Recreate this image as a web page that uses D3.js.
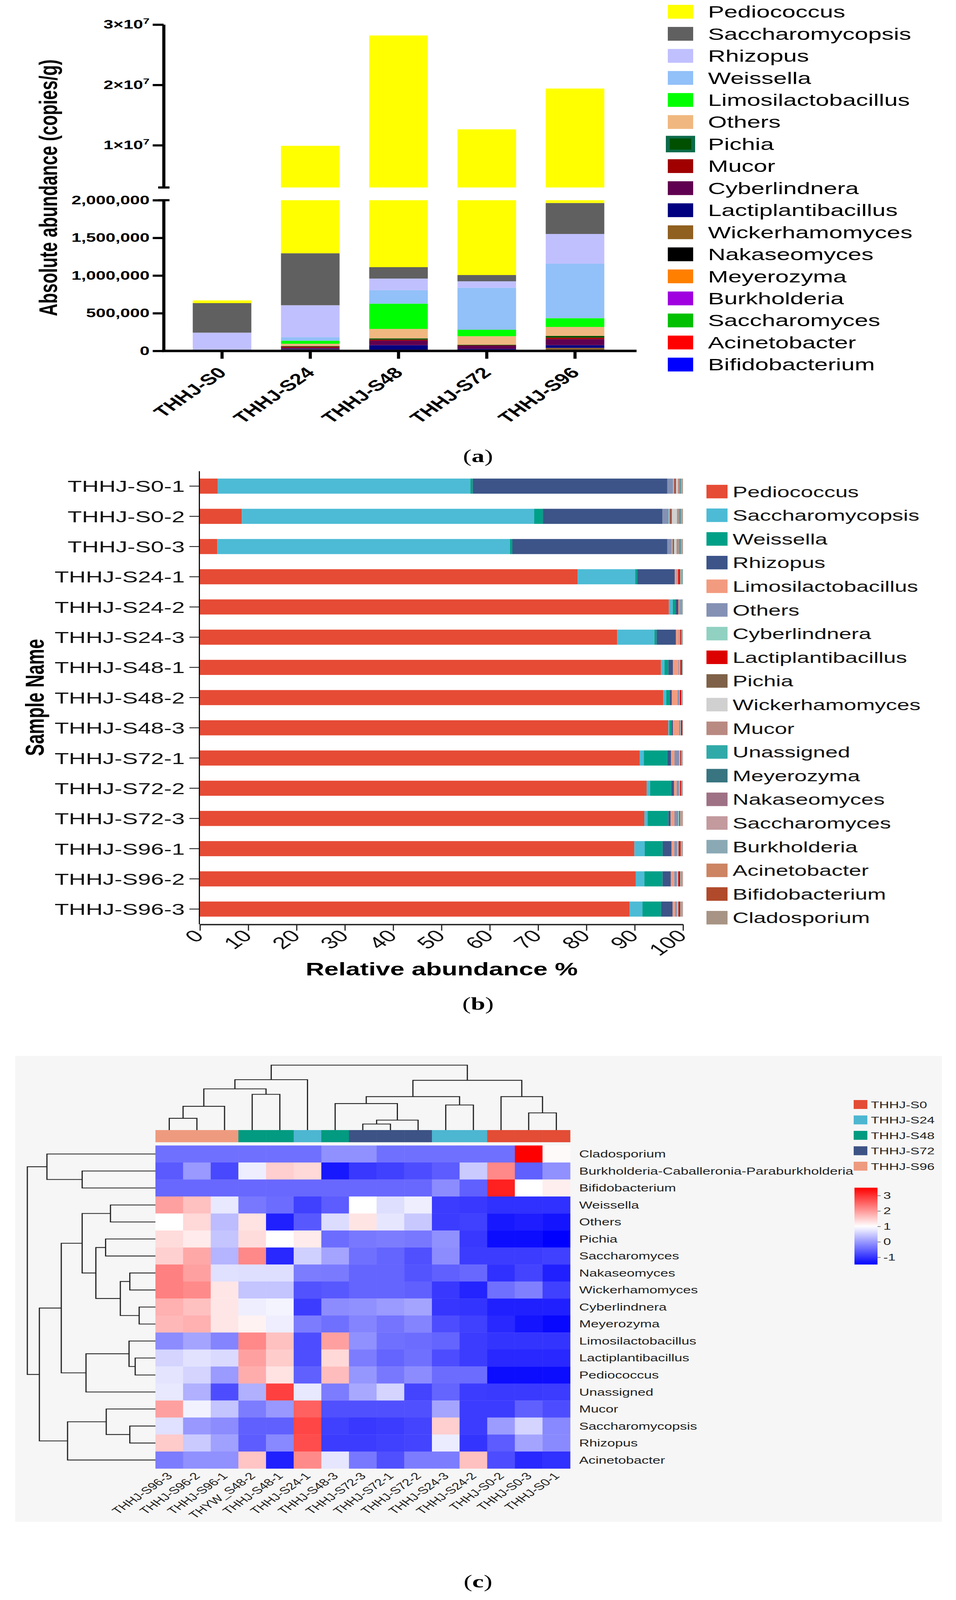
<!DOCTYPE html>
<html lang="en">
  <head>
    <meta charset="utf-8">
    <title>THHJ genera: absolute, relative abundance and heatmap</title>
    <script src="https://cdn.jsdelivr.net/npm/d3@7/dist/d3.min.js"></script>
    <style>
      html, body { margin: 0; padding: 0; background: #fff; overflow: hidden; }
      svg { display: block; }
    </style>
  </head>
  <body>
    <script>
      // ---------- panel (a): absolute abundance (copies/g) ----------
      var groupsA = ["THHJ-S0", "THHJ-S24", "THHJ-S48", "THHJ-S72", "THHJ-S96"];
      // legend order, top to bottom (stack is drawn the other way round)
      var generaA = ["Pediococcus", "Saccharomycopsis", "Rhizopus", "Weissella",
        "Limosilactobacillus", "Others", "Pichia", "Mucor", "Cyberlindnera",
        "Lactiplantibacillus", "Wickerhamomyces", "Nakaseomyces", "Meyerozyma",
        "Burkholderia", "Saccharomyces", "Acinetobacter", "Bifidobacterium"];
      var coloursA = ["#ffff00", "#606060", "#c0c0ff", "#92c0f8", "#00ff00", "#f0b880",
        "#005000", "#a00000", "#600050", "#000080", "#906020", "#000000", "#ff8000",
        "#a000e0", "#00c000", "#ff0000", "#0000ff"];
      var absPediococcus = [36000, 8610000, 27090000, 11630000, 17440000];
      var absSaccharomycopsis = [392000, 690000, 151000, 83000, 411000];
      var absRhizopus = [225000, 424000, 154000, 86000, 394000];
      var absWeissella = [3000, 47000, 179000, 557000, 724000];
      var absLimosilactobacillus = [2000, 40000, 335000, 86000, 116000];
      var absOthers = [4000, 30000, 126000, 113000, 119000];
      var absPichia = [1000, 8000, 17000, 8000, 23000];
      var absMucor = [1000, 15000, 13000, 5000, 20000];
      var absCyberlindnera = [2000, 12000, 60000, 43000, 80000];
      var absLactiplantibacillus = [1000, 9000, 59000, 12000, 36000];
      var absWickerhamomyces = [1000, 5000, 5000, 6000, 20000];
      var absNakaseomyces = [1000, 4000, 3000, 2000, 5000];
      var absMeyerozyma = [0, 3000, 3000, 2000, 4000];
      var absBurkholderia = [1000, 3000, 2000, 1000, 3000];
      var absSaccharomyces = [0, 2000, 2000, 1000, 3000];
      var absAcinetobacter = [0, 2000, 1000, 1000, 2000];
      var absBifidobacterium = [0, 2000, 1000, 1000, 3000];
      var lowTicksA = [0, 500000, 1000000, 1500000, 2000000];
      var highTicksA = [10000000, 20000000, 30000000];
      var highLabelsA = ["1×10", "2×10", "3×10"];

      // ---------- panel (b): relative abundance % ----------
      var samplesB = ["THHJ-S0-1", "THHJ-S0-2", "THHJ-S0-3", "THHJ-S24-1", "THHJ-S24-2",
        "THHJ-S24-3", "THHJ-S48-1", "THHJ-S48-2", "THHJ-S48-3", "THHJ-S72-1", "THHJ-S72-2",
        "THHJ-S72-3", "THHJ-S96-1", "THHJ-S96-2", "THHJ-S96-3"];
      var taxaB = ["Pediococcus", "Saccharomycopsis", "Weissella", "Rhizopus",
        "Limosilactobacillus", "Others", "Cyberlindnera", "Lactiplantibacillus", "Pichia",
        "Wickerhamomyces", "Mucor", "Unassigned", "Meyerozyma", "Nakaseomyces",
        "Saccharomyces", "Burkholderia", "Acinetobacter", "Bifidobacterium", "Cladosporium"];
      var coloursB = ["#e64b35", "#4dbbd5", "#00a087", "#3c5488", "#f39b7f", "#8491b4",
        "#91d1c2", "#dc0000", "#7e6148", "#d0d0d0", "#b98a82", "#30aaa8", "#387580",
        "#9e7284", "#c39a9e", "#8aa9b5", "#cc8462", "#b04a2b", "#a89484"];
      var relPediococcus = [3.7, 8.7, 3.6, 78.2, 97.1, 86.4, 95.5, 96.0, 97.0, 91.0, 92.5, 92.2, 89.9, 90.4, 89.1];
      var relSaccharomycopsis = [52.3, 60.6, 60.6, 11.9, 0.8, 7.7, 0.7, 0.65, 0.23, 0.83, 0.7, 0.65, 2.13, 1.8, 2.64];
      var relWeissella = [0.5, 1.8, 0.5, 0.4, 0.56, 0.45, 0.83, 0.7, 0.46, 4.87, 4.36, 4.31, 3.71, 3.76, 3.85];
      var relRhizopus = [40.3, 24.8, 32.1, 7.8, 0.6, 4.0, 0.93, 0.46, 0.28, 0.79, 0.6, 0.46, 1.85, 1.72, 2.41];
      var relLimosilactobacillus = [0, 0, 0, 0.4, 0.2, 0.6, 1.15, 1.15, 1.25, 0.7, 0.55, 0.8, 0.55, 0.7, 0.5];
      var relOthers = [1.2, 1.3, 0.9, 0.2, 0.3, 0.2, 0.2, 0.35, 0.3, 1.0, 0.5, 0.8, 0.6, 0.55, 0.4];
      var relCyberlindnera = [0.2, 0.2, 0.2, 0.1, 0.1, 0.1, 0.2, 0.15, 0.1, 0.2, 0.2, 0.2, 0.3, 0.3, 0.3];
      var relLactiplantibacillus = [0.1, 0.1, 0.1, 0.3, 0.1, 0.2, 0.3, 0.3, 0.28, 0.15, 0.2, 0.15, 0.4, 0.35, 0.35];
      var relPichia = [0.3, 0.35, 0.2, 0.2, 0.05, 0.1, 0.05, 0.05, 0.02, 0.1, 0.1, 0.1, 0.1, 0.1, 0.1];
      var relWickerhamomyces = [0.4, 1.05, 0.5, 0.1, 0.05, 0.05, 0.03, 0.04, 0.02, 0.1, 0.05, 0.08, 0.05, 0.06, 0.06];
      var relMucor = [0.3, 0.4, 0.5, 0.2, 0.05, 0.1, 0.03, 0.04, 0.02, 0.04, 0.04, 0.06, 0.1, 0.08, 0.08];
      var relUnassigned = [0.2, 0.3, 0.3, 0.1, 0.05, 0.05, 0.03, 0.05, 0.02, 0.04, 0.05, 0.08, 0.06, 0.08, 0.08];
      var relMeyerozyma = [0.1, 0.1, 0.1, 0.02, 0.01, 0.01, 0.02, 0.03, 0.01, 0.02, 0.03, 0.05, 0.04, 0.05, 0.05];
      var relNakaseomyces = [0.1, 0.1, 0.1, 0.02, 0.01, 0.01, 0.02, 0.03, 0.01, 0.02, 0.03, 0.05, 0.04, 0.05, 0.05];
      var relSaccharomyces = [0.1, 0.1, 0.1, 0.02, 0.01, 0.01, 0.02, 0.03, 0.01, 0.02, 0.03, 0.05, 0.03, 0.05, 0.05];
      var relBurkholderia = [0.1, 0.1, 0.1, 0.02, 0.01, 0.01, 0.02, 0.03, 0.01, 0.02, 0.03, 0.05, 0.03, 0.05, 0.04];
      var relAcinetobacter = [0.05, 0.05, 0.05, 0.01, 0.01, 0.01, 0.01, 0.02, 0.01, 0.02, 0.02, 0.04, 0.03, 0.04, 0.03];
      var relBifidobacterium = [0.05, 0.05, 0.05, 0.01, 0.01, 0.01, 0.01, 0.02, 0.01, 0.02, 0.02, 0.04, 0.02, 0.04, 0.03];
      var relCladosporium = [0.05, 0.05, 0.05, 0.01, 0.01, 0.01, 0.01, 0.02, 0.01, 0.02, 0.02, 0.03, 0.02, 0.03, 0.03];
      var ticksB = [0, 10, 20, 30, 40, 50, 60, 70, 80, 90, 100];

      // ---------- panel (c): clustered heatmap (row z-scores) ----------
      var colsC = ["THHJ-S96-3", "THHJ-S96-2", "THHJ-S96-1", "THYW_S48-2", "THHJ-S48-1",
        "THHJ-S24-1", "THHJ-S48-3", "THHJ-S72-3", "THHJ-S72-1", "THHJ-S72-2", "THHJ-S24-3",
        "THHJ-S24-2", "THHJ-S0-2", "THHJ-S0-3", "THHJ-S0-1"];
      var colGroupC = ["THHJ-S96", "THHJ-S96", "THHJ-S96", "THHJ-S48", "THHJ-S48", "THHJ-S24",
        "THHJ-S48", "THHJ-S72", "THHJ-S72", "THHJ-S72", "THHJ-S24", "THHJ-S24", "THHJ-S0",
        "THHJ-S0", "THHJ-S0"];
      var groupsC = ["THHJ-S0", "THHJ-S24", "THHJ-S48", "THHJ-S72", "THHJ-S96"];
      var groupColoursC = ["#e34c35", "#4db6d0", "#029a80", "#3d5385", "#ee9a7f"];
      var rowsC = ["Cladosporium", "Burkholderia-Caballeronia-Paraburkholderia", "Bifidobacterium",
        "Weissella", "Others", "Pichia", "Saccharomyces", "Nakaseomyces", "Wickerhamomyces",
        "Cyberlindnera", "Meyerozyma", "Limosilactobacillus", "Lactiplantibacillus",
        "Pediococcus", "Unassigned", "Mucor", "Saccharomycopsis", "Rhizopus", "Acinetobacter"];
      var zCladosporium = [-0.40, -0.40, -0.40, -0.40, -0.40, -0.40, -0.09, -0.09, -0.40, -0.40, -0.40, -0.40, -0.40, 3.50, 1.05];
      var zBurkholderia = [-0.62, 0.00, -0.79, 0.83, 1.48, 1.38, -1.26, -0.95, -0.87, -0.75, -0.60, 0.48, 2.17, -0.56, -0.09];
      var zBifidobacterium = [-0.48, -0.48, -0.48, -0.48, -0.48, -0.48, -0.48, -0.48, -0.48, -0.48, -0.13, -0.56, 3.19, 1.00, 1.17];
      var zWeissella = [1.93, 1.62, 0.77, -0.32, -0.44, -0.87, -0.60, 1.00, 0.68, 0.83, -0.91, -0.95, -1.03, -1.03, -1.03];
      var zOthers = [1.00, 1.38, 0.34, 1.28, -1.19, -0.64, 0.66, 1.26, 0.75, 0.46, -0.91, -0.87, -1.26, -1.22, -1.30];
      var zPichia = [1.34, 1.20, 0.42, 1.34, 1.00, 1.20, -0.44, -0.32, -0.28, -0.32, -0.09, -0.95, -1.38, -1.38, -1.50];
      var zSaccharomyces = [1.46, 1.85, 0.26, 2.17, -1.11, 0.54, 0.11, -0.40, -0.52, -0.72, -0.13, -0.91, -0.91, -0.91, -0.87];
      var zNakaseomyces = [2.25, 1.93, 0.70, 0.68, 0.68, -0.28, -0.30, -0.52, -0.52, -0.68, -0.56, -0.48, -1.03, -0.83, -1.19];
      var zWickerhamomyces = [2.25, 2.15, 1.25, 0.42, 0.42, -0.70, -0.64, -0.52, -0.52, -0.56, -0.95, -1.15, -0.40, -0.25, -0.87];
      var zCyberlindnera = [1.77, 1.62, 1.25, 0.83, 0.89, -0.91, -0.13, -0.09, 0.01, 0.11, -0.97, -0.99, -1.19, -1.19, -1.19];
      var zMeyerozyma = [1.70, 1.77, 1.25, 1.13, 0.83, -0.28, -0.40, -0.21, -0.36, -0.21, -0.75, -0.87, -1.11, -1.30, -1.42];
      var zLimosilactobacillus = [-0.13, 0.11, -0.21, 2.17, 1.62, -0.75, 1.93, -0.09, -0.40, -0.44, -0.52, -0.91, -0.99, -0.99, -0.99];
      var zLactiplantibacillus = [0.58, 0.72, 0.64, 1.93, 1.50, -0.74, 1.38, -0.28, -0.52, -0.40, -0.75, -0.91, -1.11, -1.11, -1.11];
      var zPediococcus = [0.74, 0.58, 0.01, 1.81, 1.28, -0.56, 1.66, -0.03, -0.32, -0.13, -0.44, -0.44, -1.38, -1.38, -1.38];
      var zUnassigned = [0.77, 0.23, -0.75, 0.23, 2.87, 0.77, -0.28, 0.15, 0.58, -0.83, -0.52, -0.91, -0.93, -0.93, -0.91];
      var zMucor = [1.93, 0.87, 0.42, -0.28, -0.01, 2.56, -0.72, -0.72, -0.72, -0.72, 0.11, -0.91, -0.91, -0.56, -0.75];
      var zSaccharomycopsis = [0.70, -0.01, -0.13, -0.56, -0.56, 2.81, -0.87, -0.95, -0.91, -0.83, 1.48, -0.91, 0.03, 0.58, -0.17];
      var zRhizopus = [1.52, 0.48, 0.07, -0.60, -0.17, 2.75, -0.91, -0.91, -0.87, -0.83, 0.81, -0.99, -0.60, 0.11, -0.15];
      var zAcinetobacter = [-0.28, -0.09, -0.09, 1.58, -1.19, 2.15, 0.75, -0.32, -0.72, -0.28, -0.28, 1.62, -0.75, -1.11, -1.03];
      // dendrograms as [left, right, height]; leaves are column / row indexes
      var colTreeC = [
        [[[[0, 1, 0.181], 2, 0.366], [3, 4, 0.550], 0.634], 5, 0.776],
        [[[6, [[7, 8, 0.093], 9, 0.153], 0.408], [10, 11, 0.386], 0.515], [12, [13, 14, 0.265], 0.515], 0.766],
        1];
      var rowTreeC = [
        [0, [1, 2, 0.572], 0.847],
        [[[[3, 4, 0.351], [[5, 6, 0.389], [[7, 8, 0.200], [9, 10, 0.127], 0.274], 0.465], 0.572],
          [[11, [12, 13, 0.158], 0.206], 14, 0.542], 0.735],
         [[15, [16, 17, 0.200], 0.384], 18, 0.686], 0.906],
        1];
      var colourTicksC = [-1, 0, 1, 2, 3];

      // the figure is laid out on a 2448 x 5914 sheet and fitted to the window
      var W = 2448, H = 5914;
      var viewW = window.innerWidth || W, viewH = window.innerHeight || H;
      var sans = "'Liberation Sans', Arial, Helvetica, sans-serif";
      var serif = "'Liberation Serif', 'DejaVu Serif', serif";

      var svg = d3.select("body").append("svg")
          .attr("width", viewW)
          .attr("height", viewH)
          .attr("viewBox", "0 0 " + W + " " + H)
          .attr("preserveAspectRatio", "none")
          .style("font-family", sans);
      svg.append("rect").attr("width", W).attr("height", H).attr("fill", "#fff");

      // ======================= (a) =======================
      var absValues = [absPediococcus, absSaccharomycopsis, absRhizopus, absWeissella,
        absLimosilactobacillus, absOthers, absPichia, absMucor, absCyberlindnera,
        absLactiplantibacillus, absWickerhamomyces, absNakaseomyces, absMeyerozyma,
        absBurkholderia, absSaccharomyces, absAcinetobacter, absBifidobacterium];
      var tableA = groupsA.map(function(g, i) {
        var row = { group: g };
        generaA.forEach(function(k, j) { row[k] = absValues[j][i]; });
        return row;
      });
      var colourA = d3.scaleOrdinal().domain(generaA).range(coloursA);
      var seriesA = d3.stack().keys(generaA.slice().reverse())(tableA);

      var axisXA = 419, baseA = 1297;
      var xA = d3.scaleBand().domain(groupsA).range([axisXA, 1622])
          .paddingInner(0.336).paddingOuter(0.33);
      var yLow = d3.scaleLinear().domain([0, 2000000]).range([baseA, 740]);
      var yHigh = d3.scaleLinear().domain([3000000, 30000000]).range([693, 91]);
      var gA = svg.append("g");

      var layersA = gA.selectAll("g.layer")
          .data(seriesA)
          .enter()
          .append("g")
          .attr("fill", function(d) { return colourA(d.key); });
      // lower part of the broken axis
      layersA.selectAll("rect.low")
          .data(function(d) { return d.filter(function(s) { return s[0] < 2000000 && s[1] > s[0]; }); })
          .enter()
          .append("rect")
          .attr("x", function(s) { return xA(s.data.group); })
          .attr("width", xA.bandwidth())
          .attr("y", function(s) { return yLow(Math.min(s[1], 2000000)); })
          .attr("height", function(s) { return yLow(s[0]) - yLow(Math.min(s[1], 2000000)); });
      // upper part
      layersA.selectAll("rect.high")
          .data(function(d) { return d.filter(function(s) { return s[1] > 3000000; }); })
          .enter()
          .append("rect")
          .attr("x", function(s) { return xA(s.data.group); })
          .attr("width", xA.bandwidth())
          .attr("y", function(s) { return yHigh(s[1]); })
          .attr("height", function(s) { return yHigh(Math.max(s[0], 3000000)) - yHigh(s[1]); });

      var lowAxis = gA.append("g")
          .attr("transform", "translate(" + axisXA + ",0)")
          .call(d3.axisLeft(yLow).tickValues(lowTicksA).tickFormat(d3.format(","))
            .tickSize(28).tickSizeOuter(0).tickPadding(8));
      var highAxis = gA.append("g")
          .attr("transform", "translate(" + axisXA + ",0)")
          .call(d3.axisLeft(yHigh).tickValues(highTicksA).tickFormat("")
            .tickSize(28).tickSizeOuter(0).tickPadding(8));
      [lowAxis, highAxis].forEach(function(ax) {
        ax.selectAll("path, line").attr("stroke", "#000").attr("stroke-width", 8);
        ax.selectAll("text").attr("font-size", 45).attr("font-weight", "bold")
          .attr("fill", "#000").attr("font-family", sans);
      });
      highAxis.selectAll(".tick text").each(function(d, i) {
        var t = d3.select(this);
        t.append("tspan").text(highLabelsA[i]);
        t.append("tspan").text("7").attr("font-size", 30).attr("dy", -18);
      });
      // break marks
      gA.selectAll("line.brk")
          .data([693, 740])
          .enter()
          .append("line")
          .attr("x1", axisXA - 14).attr("x2", axisXA + 15)
          .attr("y1", function(d) { return d; }).attr("y2", function(d) { return d; })
          .attr("stroke", "#000").attr("stroke-width", 8);

      // x axis
      gA.append("line")
          .attr("x1", axisXA - 4).attr("x2", 1630)
          .attr("y1", baseA).attr("y2", baseA)
          .attr("stroke", "#000").attr("stroke-width", 9);
      gA.selectAll("line.xt")
          .data(groupsA)
          .enter()
          .append("line")
          .attr("x1", function(d) { return xA(d) + xA.bandwidth() / 2; })
          .attr("x2", function(d) { return xA(d) + xA.bandwidth() / 2; })
          .attr("y1", baseA).attr("y2", baseA + 29)
          .attr("stroke", "#000").attr("stroke-width", 8);
      gA.selectAll("text.xl")
          .data(groupsA)
          .enter()
          .append("text")
          .attr("transform", function(d) {
            return "translate(" + (xA(d) + xA.bandwidth() / 2 + 14) + "," + (baseA + 84) + ") rotate(-45)";
          })
          .attr("text-anchor", "end")
          .attr("font-size", 56)
          .attr("font-weight", "bold")
          .text(function(d) { return d; });
      gA.append("text")
          .attr("transform", "translate(146," + (91 + baseA) / 2 + ") rotate(-90)")
          .attr("text-anchor", "middle")
          .attr("font-size", 64)
          .attr("font-weight", "bold")
          .text("Absolute abundance (copies/g)");

      // legend (a)
      var legA = gA.selectAll("g.legA")
          .data(generaA)
          .enter()
          .append("g")
          .attr("transform", function(d, i) { return "translate(1710," + (43 + i * 81.5) + ")"; });
      legA.append("rect")
          .attr("y", -25).attr("width", 65).attr("height", 51)
          .attr("fill", function(d) { return colourA(d); })
          .attr("stroke", function(d) { return d === "Pichia" ? "#0d6b4a" : "none"; })
          .attr("stroke-width", 10);
      legA.append("text")
          .attr("x", 103).attr("dy", "0.36em")
          .attr("font-size", 62)
          .text(function(d) { return d; });

      // ======================= (b) =======================
      var relValues = [relPediococcus, relSaccharomycopsis, relWeissella, relRhizopus,
        relLimosilactobacillus, relOthers, relCyberlindnera, relLactiplantibacillus, relPichia,
        relWickerhamomyces, relMucor, relUnassigned, relMeyerozyma, relNakaseomyces,
        relSaccharomyces, relBurkholderia, relAcinetobacter, relBifidobacterium, relCladosporium];
      var tableB = samplesB.map(function(s, i) {
        var row = { sample: s };
        taxaB.forEach(function(k, j) { row[k] = relValues[j][i]; });
        return row;
      });
      var colourB = d3.scaleOrdinal().domain(taxaB).range(coloursB);
      var seriesB = d3.stack().keys(taxaB).offset(d3.stackOffsetExpand)(tableB);

      var axisXB = 510, baseB = 3417;
      var xB = d3.scaleLinear().domain([0, 100]).range([512, 1749]);
      var yB = d3.scaleBand().domain(samplesB).range([1741, 3416])
          .paddingInner(0.5).paddingOuter(0.25);
      var gB = svg.append("g");

      gB.selectAll("g.layer")
          .data(seriesB)
          .enter()
          .append("g")
          .attr("fill", function(d) { return colourB(d.key); })
          .selectAll("rect")
          .data(function(d) { return d; })
          .enter()
          .append("rect")
          .attr("y", function(s) { return yB(s.data.sample); })
          .attr("height", yB.bandwidth())
          .attr("x", function(s) { return xB(s[0] * 100); })
          .attr("width", function(s) { return xB(s[1] * 100) - xB(s[0] * 100); });

      var yAxisB = gB.append("g")
          .attr("transform", "translate(" + axisXB + ",0)")
          .call(d3.axisLeft(yB).tickSize(25).tickSizeOuter(0).tickPadding(12));
      yAxisB.select(".domain").attr("stroke", "#111").attr("stroke-width", 3);
      yAxisB.selectAll(".tick line").attr("stroke", "#111").attr("stroke-width", 3);
      yAxisB.selectAll(".tick text").attr("font-size", 60).attr("fill", "#111")
          .attr("font-family", sans).attr("dy", "0.36em");

      var xAxisB = gB.append("g")
          .attr("transform", "translate(0," + baseB + ")")
          .call(d3.axisBottom(xB).tickValues(ticksB).tickSize(23).tickSizeOuter(0));
      xAxisB.select(".domain").attr("stroke", "#222").attr("stroke-width", 5);
      xAxisB.selectAll(".tick line").attr("stroke", "#222").attr("stroke-width", 3);
      xAxisB.selectAll(".tick text")
          .attr("font-size", 62).attr("fill", "#111").attr("font-family", sans)
          .attr("x", null).attr("y", null).attr("dy", null)
          .attr("text-anchor", "end")
          .attr("transform", "translate(12,46) rotate(-45)");

      gB.append("text")
          .attr("x", 1131).attr("y", 3605)
          .attr("text-anchor", "middle")
          .attr("font-size", 66).attr("font-weight", "bold")
          .text("Relative abundance %");
      gB.append("text")
          .attr("transform", "translate(112,2578) rotate(-90)")
          .attr("text-anchor", "middle")
          .attr("font-size", 66).attr("font-weight", "bold")
          .text("Sample Name");

      var legB = gB.selectAll("g.legB")
          .data(taxaB)
          .enter()
          .append("g")
          .attr("transform", function(d, i) { return "translate(1809," + (1817 + i * 87.5) + ")"; });
      legB.append("rect")
          .attr("y", -25).attr("width", 54).attr("height", 50)
          .attr("fill", function(d) { return colourB(d); });
      legB.append("text")
          .attr("x", 67).attr("dy", "0.36em")
          .attr("font-size", 57).attr("fill", "#111")
          .text(function(d) { return d; });

      // ======================= (c) =======================
      var zValues = [zCladosporium, zBurkholderia, zBifidobacterium, zWeissella, zOthers,
        zPichia, zSaccharomyces, zNakaseomyces, zWickerhamomyces, zCyberlindnera, zMeyerozyma,
        zLimosilactobacillus, zLactiplantibacillus, zPediococcus, zUnassigned, zMucor,
        zSaccharomycopsis, zRhizopus, zAcinetobacter];
      var cellsC = [];
      rowsC.forEach(function(r, i) {
        colsC.forEach(function(c, j) { cellsC.push({ row: r, col: c, v: zValues[i][j] }); });
      });

      var gC = svg.append("g");
      gC.append("rect")
          .attr("x", 39).attr("y", 3903).attr("width", 2373).attr("height", 1722)
          .attr("fill", "#f6f6f6");

      var xC = d3.scaleBand().domain(colsC).range([398, 1460]);
      var yC = d3.scaleBand().domain(rowsC).range([4234, 5428]);
      var heat = d3.scaleLinear().domain([-1.5, 1, 3.5]).range(["#0000ff", "#ffffff", "#ff0000"]);
      var groupColour = d3.scaleOrdinal().domain(groupsC).range(groupColoursC);

      gC.selectAll("rect.cell")
          .data(cellsC)
          .enter()
          .append("rect")
          .attr("x", function(d) { return xC(d.col); })
          .attr("y", function(d) { return yC(d.row); })
          .attr("width", xC.bandwidth() + 0.5)
          .attr("height", yC.bandwidth() + 0.5)
          .attr("fill", function(d) { return heat(d.v); });

      // annotation bar
      gC.selectAll("rect.ann")
          .data(colsC)
          .enter()
          .append("rect")
          .attr("x", function(d) { return xC(d); })
          .attr("y", 4177)
          .attr("width", xC.bandwidth() + 0.5)
          .attr("height", 45)
          .attr("fill", function(d, i) { return groupColour(colGroupC[i]); });

      // dendrograms
      var colH = d3.scaleLinear().domain([0, 1]).range([4177, 3937]);
      var rowH = d3.scaleLinear().domain([0, 1]).range([398, 70]);
      var treePaths = [];
      function walk(node, leafPos, hPos, vertical) {
        if (typeof node === "number") return { p: leafPos(node), h: hPos(0) };
        var a = walk(node[0], leafPos, hPos, vertical);
        var b = walk(node[1], leafPos, hPos, vertical);
        var h = hPos(node[2]);
        if (vertical) {
          treePaths.push("M" + a.p + "," + a.h + "V" + h + "H" + b.p + "V" + b.h);
        } else {
          treePaths.push("M" + a.h + "," + a.p + "H" + h + "V" + b.p + "H" + b.h);
        }
        return { p: (a.p + b.p) / 2, h: h };
      }
      walk(colTreeC, function(i) { return xC(colsC[i]) + xC.bandwidth() / 2; }, colH, true);
      walk(rowTreeC, function(i) { return yC(rowsC[i]) + yC.bandwidth() / 2; }, rowH, false);
      gC.selectAll("path.tree")
          .data(treePaths)
          .enter()
          .append("path")
          .attr("d", function(d) { return d; })
          .attr("fill", "none")
          .attr("stroke", "#222")
          .attr("stroke-width", 3);

      // labels
      gC.selectAll("text.rowl")
          .data(rowsC)
          .enter()
          .append("text")
          .attr("x", 1483)
          .attr("y", function(d) { return yC(d) + yC.bandwidth() / 2; })
          .attr("dy", "0.36em")
          .attr("font-size", 36).attr("fill", "#222")
          .text(function(d) { return d; });
      gC.selectAll("text.coll")
          .data(colsC)
          .enter()
          .append("text")
          .attr("transform", function(d) {
            return "translate(" + (xC(d) + xC.bandwidth() / 2 + 10) + ",5458) rotate(-45)";
          })
          .attr("text-anchor", "end")
          .attr("font-size", 36).attr("fill", "#222")
          .text(function(d) { return d; });

      // group legend
      var legC = gC.selectAll("g.legC")
          .data(groupsC)
          .enter()
          .append("g")
          .attr("transform", function(d, i) { return "translate(2186," + (4083 + i * 57) + ")"; });
      legC.append("rect")
          .attr("y", -17).attr("width", 35).attr("height", 33)
          .attr("fill", function(d) { return groupColour(d); });
      legC.append("text")
          .attr("x", 44).attr("dy", "0.36em")
          .attr("font-size", 35).attr("fill", "#222")
          .text(function(d) { return d; });

      // colour key
      var keyScale = d3.scaleLinear().domain([-1.47, 3.51]).range([4674, 4390]);
      var grad = svg.append("defs").append("linearGradient")
          .attr("id", "heatGrad")
          .attr("x1", 0).attr("y1", 1).attr("x2", 0).attr("y2", 0);
      grad.selectAll("stop")
          .data(d3.range(0, 1.0001, 0.05))
          .enter()
          .append("stop")
          .attr("offset", function(t) { return t; })
          .attr("stop-color", function(t) { return heat(-1.47 + t * (3.51 + 1.47)); });
      gC.append("rect")
          .attr("x", 2188).attr("y", 4390).attr("width", 59).attr("height", 284)
          .attr("fill", "url(#heatGrad)");
      var keyAxis = gC.append("g")
          .attr("transform", "translate(2247,0)")
          .call(d3.axisRight(keyScale).tickValues(colourTicksC)
            .tickFormat(function(d) { return String(d); }).tickSize(8).tickPadding(7));
      keyAxis.select(".domain").remove();
      keyAxis.selectAll(".tick line").attr("stroke", "#555").attr("stroke-width", 2);
      keyAxis.selectAll(".tick text").attr("font-size", 35).attr("fill", "#222")
          .attr("font-family", sans);

      // ======================= captions =======================
      svg.selectAll("text.cap")
          .data([["a", 1708], ["b", 3733], ["c", 5868]])
          .enter()
          .append("text")
          .attr("x", 1224).attr("y", function(d) { return d[1]; })
          .attr("text-anchor", "middle")
          .attr("font-family", serif)
          .attr("font-size", 66)
          .each(function(d) {
            var t = d3.select(this);
            t.append("tspan").text("(");
            t.append("tspan").attr("font-weight", "bold").text(d[0]);
            t.append("tspan").text(")");
          });
    </script>
  </body>
</html>
